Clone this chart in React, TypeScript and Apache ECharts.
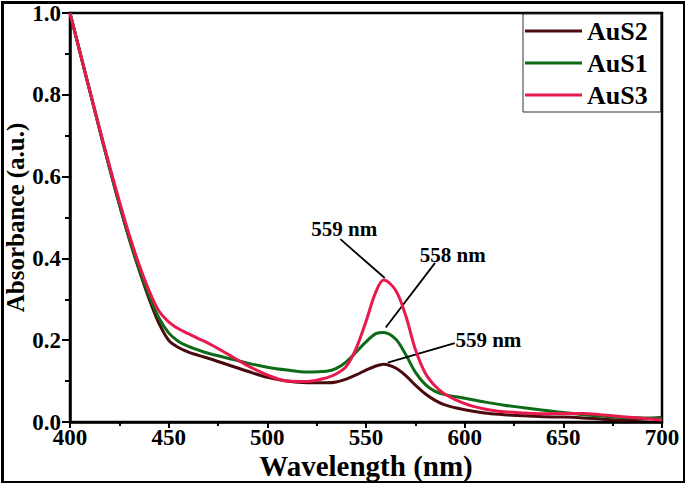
import React, { useEffect, useRef } from "react";
import * as echarts from "echarts";

// ---- Data ----
const wavelengths = [
  400, 405, 410, 415, 420, 425, 430, 435, 440, 445, 450, 455, 460, 465, 470,
  480, 490, 500, 510, 520, 530, 535, 540, 545, 550, 555, 559, 565, 570, 575,
  580, 585, 590, 600, 610, 620, 630, 640, 650, 660, 670, 680, 690, 700,
];

const aus2 = [
  1.0, 0.905, 0.81, 0.715, 0.622, 0.532, 0.448, 0.372, 0.302, 0.242, 0.2,
  0.182, 0.171, 0.163, 0.156, 0.14, 0.124, 0.109, 0.1, 0.096, 0.096, 0.098,
  0.105, 0.115, 0.127, 0.137, 0.141, 0.132, 0.114, 0.09, 0.069, 0.053, 0.042,
  0.03, 0.022, 0.018, 0.015, 0.013, 0.012, 0.01, 0.007, 0.005, 0.007, 0.011,
];

const aus1 = [
  1.0, 0.905, 0.81, 0.715, 0.622, 0.533, 0.45, 0.375, 0.31, 0.255, 0.218,
  0.197, 0.185, 0.176, 0.168, 0.156, 0.144, 0.134, 0.127, 0.122, 0.124, 0.131,
  0.147, 0.171, 0.196, 0.216, 0.219, 0.203, 0.166, 0.122, 0.092, 0.075, 0.067,
  0.058, 0.049, 0.041, 0.035, 0.029, 0.023, 0.018, 0.014, 0.011, 0.01, 0.009,
];

const aus3 = [
  1.0, 0.905, 0.81, 0.717, 0.627, 0.54, 0.458, 0.385, 0.322, 0.272, 0.245,
  0.228, 0.216, 0.204, 0.193, 0.166, 0.138, 0.115, 0.1, 0.099, 0.108, 0.118,
  0.136, 0.18, 0.246, 0.318, 0.347, 0.322, 0.262, 0.178, 0.12, 0.088, 0.068,
  0.045, 0.032, 0.025, 0.022, 0.02, 0.021, 0.021, 0.017, 0.013, 0.009, 0.005,
];

const seriesNames = ["AuS2", "AuS1", "AuS3"];
const seriesValues = [aus2, aus1, aus3];

// annotation texts and their anchor points in data coordinates
const annoLabels = ["559 nm", "558 nm", "559 nm"];
const annoTextAt = [
  [539, 0.472],
  [594, 0.408],
  [612, 0.2],
];
const arrowFrom = [
  [537, 0.447],
  [585, 0.389],
  [595, 0.193],
];
const arrowTo = [
  [559.5, 0.352],
  [560, 0.231],
  [561, 0.145],
];

const xTicks = { min: 400, max: 700, step: 50 };
const yTicks = { min: 0, max: 1, step: 0.2 };

// ---- Styles ----
const FONT = '"Liberation Serif", "Times New Roman", serif';
const COLORS = ["#4a0b0e", "#0d6a16", "#e8194d"];

export default function App() {
  const ref = useRef<HTMLDivElement>(null);

  useEffect(() => {
    if (!ref.current) return;
    const chart = echarts.init(ref.current, null, { renderer: "svg" });

    const series: any[] = seriesNames.map((name, si) => ({
      name,
      type: "line",
      data: wavelengths.map((w, i) => [w, seriesValues[si][i]]),
      smooth: 0.35,
      showSymbol: false,
      symbol: "none",
      z: 3 + si,
      lineStyle: { color: COLORS[si], width: 3 },
      itemStyle: { color: COLORS[si] },
    }));

    // annotation layer
    series.push({
      name: "annotations",
      type: "line",
      data: [],
      silent: true,
      z: 10,
      markLine: {
        silent: true,
        animation: false,
        symbol: ["none", "arrow"],
        symbolSize: [0, 14],
        label: { show: false },
        lineStyle: { color: "#000", width: 1.8, type: "solid" },
        emphasis: { disabled: true },
        data: arrowFrom.map((f, i) => [{ coord: f }, { coord: arrowTo[i] }]),
      },
      markPoint: {
        silent: true,
        animation: false,
        symbol: "circle",
        symbolSize: 0,
        label: {
          show: true,
          position: "inside",
          color: "#000",
          fontFamily: FONT,
          fontWeight: "bold",
          fontSize: 21,
        },
        data: annoLabels.map((t, i) => ({
          coord: annoTextAt[i],
          value: t,
          label: { formatter: t },
        })),
      },
    });

    const axisText = {
      fontFamily: FONT,
      fontWeight: "bold" as const,
      fontSize: 23,
      color: "#000",
    };

    chart.setOption({
      animation: false,
      backgroundColor: "#fff",
      grid: {
        left: 70,
        right: 23,
        top: 13,
        bottom: 61,
        containLabel: false,
        outerBoundsMode: "none",
        show: true,
        borderColor: "#000",
        borderWidth: 2.5,
      },
      legend: {
        data: seriesNames,
        orient: "vertical",
        left: 523,
        top: 14,
        icon: "rect",
        itemWidth: 57,
        itemHeight: 3,
        itemGap: 6,
        padding: [4, 13, 4, 2],
        borderColor: "#333",
        borderWidth: 1,
        backgroundColor: "#fff",
        textStyle: { ...axisText, fontSize: 26 },
      },
      xAxis: {
        type: "value",
        min: xTicks.min,
        max: xTicks.max,
        interval: xTicks.step,
        name: "Wavelength (nm)",
        nameLocation: "middle",
        nameGap: 29,
        nameMoveOverlap: false,
        nameTextStyle: { ...axisText, fontSize: 29 },
        axisLine: { onZero: false, lineStyle: { color: "#000", width: 2.5 } },
        axisTick: { show: true, inside: false, length: 6, lineStyle: { color: "#000", width: 2 } },
        minorTick: { show: true, splitNumber: 2, length: 4, lineStyle: { color: "#000", width: 2 } },
        splitLine: { show: false },
        axisLabel: { ...axisText, margin: 7, lineHeight: 16 },
      },
      yAxis: {
        type: "value",
        min: yTicks.min,
        max: yTicks.max,
        interval: yTicks.step,
        name: "Absorbance (a.u.)",
        nameLocation: "middle",
        nameGap: 42,
        nameMoveOverlap: false,
        nameTextStyle: { ...axisText, fontSize: 25 },
        axisLine: { onZero: false, lineStyle: { color: "#000", width: 2.5 } },
        axisTick: { show: true, inside: false, length: 8, lineStyle: { color: "#000", width: 2 } },
        minorTick: { show: true, splitNumber: 2, length: 5, lineStyle: { color: "#000", width: 2 } },
        splitLine: { show: false },
        axisLabel: {
          ...axisText,
          margin: 9,
          lineHeight: 14,
          formatter: (v: number) => v.toFixed(1),
        },
      },
      graphic: [
        {
          type: "rect",
          left: 0,
          top: 0,
          z: 100,
          silent: true,
          shape: { x: 1.5, y: 1.5, width: 682, height: 480 },
          style: { fill: "none", stroke: "#000", lineWidth: 3 },
        },
      ],
      series,
    });

    return () => chart.dispose();
  }, []);

  return (
    <div
      ref={ref}
      style={{ position: "fixed", left: 0, top: 0, width: 685, height: 483, background: "#fff" }}
    />
  );
}
